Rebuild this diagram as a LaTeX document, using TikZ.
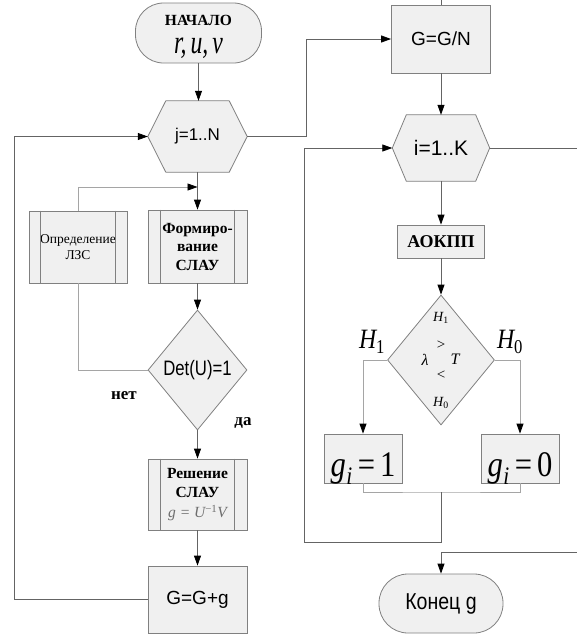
\documentclass[tikz,border=0pt]{standalone}
\usepackage{fontspec}
\usepackage{graphicx}
\setmainfont{Liberation Serif}
\setsansfont{Liberation Sans}
\usetikzlibrary{arrows.meta,shapes.geometric,backgrounds}
\definecolor{shp}{RGB}{128,128,128}
\definecolor{shfill}{RGB}{240,240,240}
\definecolor{cline}{RGB}{100,100,100}
\definecolor{lline}{RGB}{165,165,165}
\definecolor{gtxt}{RGB}{110,110,110}
\newcommand\hexa[2]{%
  \begin{scope}[on background layer]
  \draw[draw=shp,fill=shfill,line width=0.8pt]
    ([xshift=#2]#1.north west) -- ([xshift=-#2]#1.north east) -- (#1.east)
    -- ([xshift=-#2]#1.south east) -- ([xshift=#2]#1.south west) -- (#1.west) -- cycle;
  \end{scope}}
\newcommand\subp[2]{%
  \draw[draw=shp,line width=0.8pt] ([xshift=#2]#1.north west) -- ([xshift=#2]#1.south west);
  \draw[draw=shp,line width=0.8pt] ([xshift=-#2]#1.north east) -- ([xshift=-#2]#1.south east);}
\tikzset{
  box/.style={draw=shp, fill=shfill, line width=0.8pt, inner sep=0pt, align=center},
  term/.style={box, rounded corners=28pt},
  hexnode/.style={inner sep=0pt, align=center},
  conn/.style={draw=cline, line width=0.8pt},
  lconn/.style={draw=lline, line width=0.8pt},
  arr/.style={conn, -{Triangle[length=10pt,width=7pt,color=black]}},
  larr/.style={lconn, -{Triangle[length=10pt,width=7pt,color=black]}},
  plain/.style={inner sep=0pt, align=center},
}
\begin{document}
\begin{tikzpicture}[x=1pt,y=-1pt]
\useasboundingbox (0,0) rectangle (577,635);

% ---------- left column ----------
\node[term, minimum width=126pt, minimum height=60pt] (start) at (198.5,33) {};
\node[plain, anchor=base] (startA) at (198.5,25) {\fontsize{15.5}{18}\selectfont\bfseries НАЧАЛО};
\node[plain, anchor=base] (startB) at (198.5,53) {\scalebox{0.72}[1]{\fontsize{33}{33}\selectfont\itshape r,\,u,\,v}};

\node[hexnode, minimum width=99pt, minimum height=71pt] (j) at (197.5,136.5)
  {\fontsize{17}{20}\selectfont\sffamily j=1..N};
\hexa{j}{18pt}

\node[box, minimum width=98pt, minimum height=72pt, font=\fontsize{13.5}{16}\selectfont] (opr) at (78,247)
  {Определение\\ЛЗС};
\subp{opr}{12pt}

\node[box, minimum width=99pt, minimum height=73pt, font=\fontsize{15.5}{18.5}\selectfont\bfseries] (form) at (197.5,246.5)
  {Формиро-\\вание\\СЛАУ};
\subp{form}{13pt}

\node[box, diamond, minimum width=99pt, minimum height=120pt] (det) at (197.5,370)
  {\scalebox{0.88}[1.1]{\fontsize{19}{22}\selectfont\sffamily Det(U)=1}};

\node[box, minimum width=99pt, minimum height=71pt, font=\fontsize{15.5}{19.5}\selectfont\bfseries] (sol) at (197.5,494.5)
  {Решение\\СЛАУ\\
   {\color{gtxt}\mdseries\itshape g = U\textsuperscript{\upshape −1}V}};
\subp{sol}{13pt}

\node[box, minimum width=99pt, minimum height=67pt] (gp) at (197.5,599.5)
  {\fontsize{19}{22}\selectfont\sffamily G=G+g};

\node[plain] (net) at (124,396) {\fontsize{17}{20}\selectfont\bfseries нет};
\node[plain] (da) at (243,423) {\fontsize{17}{20}\selectfont\bfseries да};

% ---------- right column ----------
\node[box, minimum width=99pt, minimum height=68pt] (gn) at (441,39)
  {\fontsize{19}{22}\selectfont\sffamily G=G/N};

\node[hexnode, minimum width=97pt, minimum height=66pt] (i) at (441,148)
  {\fontsize{21}{24}\selectfont\sffamily i=1..K};
\hexa{i}{14pt}

\node[box, minimum width=87pt, minimum height=33pt] (aok) at (441,241.5)
  {\fontsize{18}{20}\selectfont\bfseries АОКПП};

\node[box, diamond, minimum width=107pt, minimum height=130pt] (dd) at (441,360) {};
\node[plain] (dH1) at (441,318) {\fontsize{14}{14}\selectfont\itshape H\textsubscript{\upshape 1}};
\node[plain] (dgt) at (441,345) {\fontsize{15}{15}\selectfont >};
\node[plain] (dlam) at (425,360) {\fontsize{16}{16}\selectfont\itshape λ};
\node[plain] (dT) at (455,359) {\fontsize{16}{16}\selectfont\itshape T};
\node[plain] (dlt) at (441,375) {\fontsize{15}{15}\selectfont <};
\node[plain] (dH0) at (441,403) {\fontsize{14}{14}\selectfont\itshape H\textsubscript{\upshape 0}};

\node[plain] (lH1) at (372,342) {\scalebox{0.85}[1]{\fontsize{28}{28}\selectfont\itshape H\textsubscript{\upshape 1}}};
\node[plain] (lH0) at (510,342) {\scalebox{0.85}[1]{\fontsize{28}{28}\selectfont\itshape H\textsubscript{\upshape 0}}};

\node[box, minimum width=78pt, minimum height=49pt] (g1) at (363,458.5) {};
\node[plain, anchor=base] (g1t) at (363,476)
  {\scalebox{0.85}[1]{\fontsize{36}{36}\selectfont\itshape g\kern0.5pt\textsubscript{i}\upshape\,=\,1}};
\node[box, minimum width=78pt, minimum height=49pt] (g0) at (520,458.5) {};
\node[plain, anchor=base] (g0t) at (520,476)
  {\scalebox{0.85}[1]{\fontsize{36}{36}\selectfont\itshape g\kern0.5pt\textsubscript{i}\upshape\,=\,0}};

\node[term, rounded corners=29pt, minimum width=124pt, minimum height=59pt] (end) at (441,603.5)
  {\scalebox{0.85}[1]{\fontsize{23}{26}\selectfont\sffamily Конец g}};

% ---------- connectors ----------
\coordinate (fb) at (0,187);
\coordinate (ll) at (14,0);
\coordinate (jr) at (306,0);
\coordinate (mrg) at (441,492);
\coordinate (lb) at (304,542);
\coordinate (ri) at (577,148);
\coordinate (re) at (577,552);
\coordinate (gtop) at (441,0);

\draw[arr] (start.south) -- (start.south |- j.north);
\draw[arr] (j.south) -- (form.north);
\draw[larr] (opr.north) |- (j.south |- fb);
\draw[arr] (form.south) -- (det.north);
\draw[lconn] (det.west) -| (opr.south);
\draw[arr] (det.south) -- (sol.north);
\draw[arr] (sol.south) -- (gp.north);
\draw[arr] (gp.west) -| (ll |- gp.west) |- (j.west);

\draw[arr] (j.east) -- (jr |- j.east) |- (gn.west);
\draw[conn] (gn.north) -- (gtop);
\draw[arr] (gn.south) -- (i.north);
\draw[conn] (i.east) -- (ri);
\draw[arr] (i.south) -- (aok.north);
\draw[arr] (aok.south) -- (dd.north);
\draw[larr] (dd.west) -| (g1.north);
\draw[larr] (dd.east) -| (g0.north);
\draw[lconn] (g1.south) |- (mrg) -| (g0.south);
\draw[arr] (mrg) |- (lb) |- (i.west);
\draw[arr] (re) -| (end.north);
\end{tikzpicture}
\end{document}
